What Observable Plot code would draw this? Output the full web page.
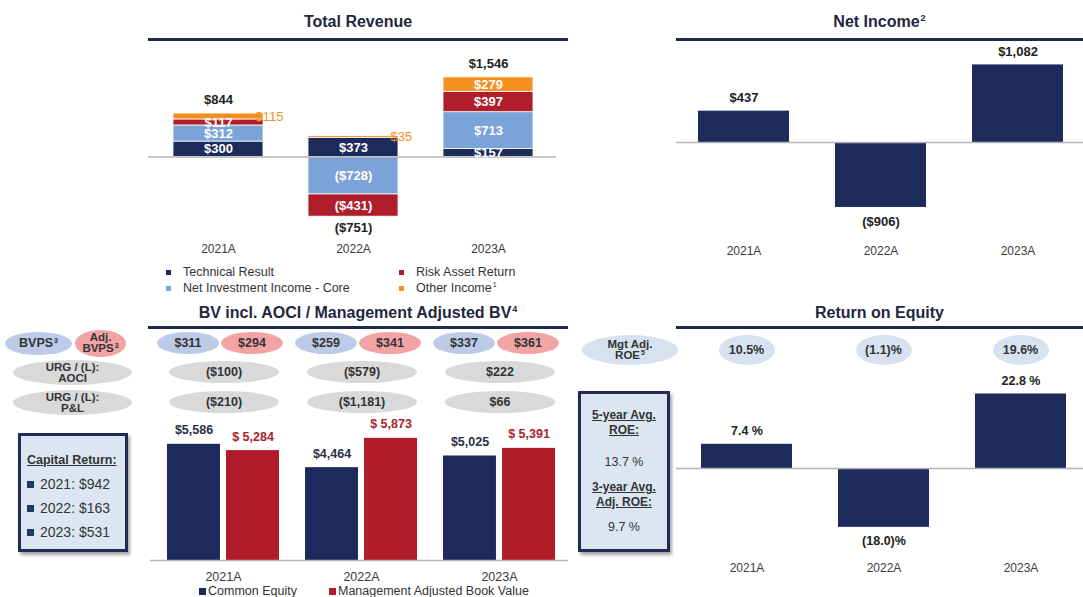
<!DOCTYPE html>
<html>
<head>
<meta charset="utf-8">
<script src="https://cdn.jsdelivr.net/npm/d3@7"></script>
<script src="https://cdn.jsdelivr.net/npm/@observablehq/plot@0.6"></script>
<style>
  body { margin: 0; background: #fff; font-family: "Liberation Sans", Arial, Helvetica, sans-serif; }
  #root { position: relative; width: 1083px; height: 597px; overflow: hidden; background: #fff; }
  .title { position: absolute; font-weight: bold; font-size: 16px; color: #1e2740; text-align: center; height: 20px; line-height: 20px; white-space: nowrap; }
  .rule { position: absolute; height: 3px; background: #1e2a4f; }
  .ell { position: absolute; border-radius: 50%; display: flex; align-items: center; justify-content: center; text-align: center; font-weight: bold; font-size: 12.5px; color: #333; line-height: 11px; white-space: nowrap; }
  .ell.small { font-size: 11.5px; }
  .sup { font-size: 7px; position: relative; top: -4px; margin-left: 1px; }
  .legend { position: absolute; font-size: 12.5px; color: #333; white-space: nowrap; display: flex; align-items: center; }
  .sq { display: inline-block; width: 5px; height: 5px; margin-right: 12px; }
  .box { position: absolute; box-sizing: border-box; border: 3px solid #1f2a55; background: #dce6f2; box-shadow: 2px 3px 3px rgba(0,0,0,0.35); color: #333; }
  svg.plot-abs { position: absolute; overflow: visible; }
</style>
</head>
<body>
<div id="root"></div>
<script>
// ---------------- DATA ----------------
const years = ["2021A", "2022A", "2023A"];

// Total Revenue (stacked)
const revSeries = ["Technical Result", "Net Investment Income - Core", "Risk Asset Return", "Other Income"];
const technicalResult = [300, 373, 157];
const netInvestmentIncomeCore = [312, -728, 713];
const riskAssetReturn = [117, -431, 397];
const otherIncome = [115, 35, 279];
const totalRevenue = [844, -751, 1546];

// Net Income
const netIncome = [437, -906, 1082];

// Book value
const bvps = [311, 259, 337];
const adjBvps = [294, 341, 361];
const urgAoci = [-100, -579, 222];
const urgPnl = [-210, -1181, 66];
const bvSeries = ["Common Equity", "Management Adjusted Book Value"];
const commonEquity = [5586, 4464, 5025];
const mgmtAdjBookValue = [5284, 5873, 5391];
const capitalReturnYears = ["2021", "2022", "2023"];
const capitalReturn = [942, 163, 531];

// Return on Equity
const roe = [7.4, -18.0, 22.8];
const mgtAdjRoe = [10.5, -1.1, 19.6];
const avg5yRoe = 13.7;
const avg3yAdjRoe = 9.7;

// ---------------- STYLE ----------------
const FONT = "'Liberation Sans', Arial, Helvetica, sans-serif";
const NAVY = "#1d2b5c", LBLUE = "#7ca3d7", RED = "#b01e2b", ORANGE = "#f5901f";
const BVRED = "#b01c28", LABEL = "#222", AXIS = "#3a3a3a";
const revColors = [NAVY, LBLUE, RED, ORANGE];
const fmtMoney = v => v < 0 ? "($" + d3.format(",")(-v) + ")" : "$" + d3.format(",")(v);
const fmtPctBar = v => v < 0 ? "(" + (-v).toFixed(1) + ")%" : v.toFixed(1) + " %";
const fmtPctEll = v => v < 0 ? "(" + (-v).toFixed(1) + ")%" : v.toFixed(1) + "%";
function avgRoeText(v) { return v.toFixed(1) + " %"; }

const root = document.getElementById("root");
function add(html, cls, left, top, width, height, extra) {
  const el = document.createElement("div");
  el.className = cls;
  el.innerHTML = cls.startsWith("ell") ? "<div>" + html + "</div>" : html;
  el.style.left = left + "px";
  el.style.top = top + "px";
  if (width != null) el.style.width = width + "px";
  if (height != null) el.style.height = height + "px";
  if (extra) Object.assign(el.style, extra);
  root.appendChild(el);
  return el;
}
function place(svg, left, top) {
  svg.classList.add("plot-abs");
  svg.style.left = left + "px";
  svg.style.top = top + "px";
  root.appendChild(svg);
  return svg;
}
const baseStyle = {fontFamily: FONT, background: "transparent", overflow: "visible"};

// ---------------- TOTAL REVENUE ----------------
const revValues = [technicalResult, netInvestmentIncomeCore, riskAssetReturn, otherIncome];
const revRows = [];
years.forEach((yr, i) => revSeries.forEach((s, j) => revRows.push({year: yr, series: s, value: revValues[j][i]})));
const revTotals = years.map((yr, i) => ({
  year: yr, total: totalRevenue[i],
  top: d3.sum(revValues, a => Math.max(0, a[i])),
  bottom: d3.sum(revValues, a => Math.min(0, a[i]))
}));
const outside = d => d.series === "Other Income" && Math.abs(d.value) < 150;

const L1 = 120, T1 = 45;
const chart1 = Plot.plot({
  width: 460, height: 215, marginTop: 0, marginBottom: 0, marginLeft: 28, marginRight: 24,
  style: baseStyle,
  x: {type: "band", domain: years, range: [6.5, 458.5], padding: 0.336, axis: null},
  y: {domain: [-1500, 2000], range: [188.75, 8.5], axis: null},
  color: {domain: revSeries, range: revColors},
  marks: [
    Plot.barY(revRows, {x: "year", y: "value", fill: "series", order: revSeries, stroke: "white", strokeWidth: 0.8}),
    Plot.ruleY([0], {stroke: "#b4b4b4", strokeWidth: 1.3}),
    Plot.text(revRows, Plot.stackY({x: "year", y: "value", z: "series", order: revSeries,
      text: d => outside(d) ? "" : fmtMoney(d.value), fill: "white", fontWeight: "bold", fontSize: 13})),
    Plot.text(revRows, Plot.stackY({x: "year", y: "value", z: "series", order: revSeries,
      text: d => outside(d) ? fmtMoney(d.value) : "", fill: ORANGE, fontSize: 13, textAnchor: "start", dx: 37})),
    Plot.text(revTotals.filter(d => d.total >= 0), {x: "year", y: "top", text: d => fmtMoney(d.total), dy: -13.5, fill: LABEL, fontWeight: "bold", fontSize: 13}),
    Plot.text(revTotals.filter(d => d.total < 0), {x: "year", y: "bottom", text: d => fmtMoney(d.total), dy: 11, fill: LABEL, fontWeight: "bold", fontSize: 13}),
    Plot.text(years, {x: d => d, frameAnchor: "bottom", lineAnchor: "middle", dy: -11, text: d => d, fontSize: 12, fill: AXIS})
  ]
});
place(chart1, L1, T1);
add("Total Revenue", "title", 148, 12, 420);
add("", "rule", 148, 38, 420);
// legend
const legendPos = [[166, 265], [166, 281], [399, 265], [399, 281]];
revSeries.forEach((s, j) => {
  const label = s === "Other Income" ? "Other Income<span class='sup'>1</span>" : s;
  add(`<span class="sq" style="background:${revColors[j]}"></span>${label}`, "legend", legendPos[j][0], legendPos[j][1], null, 14);
});

// ---------------- NET INCOME ----------------
const niRows = years.map((yr, i) => ({year: yr, value: netIncome[i]}));
const chart2 = Plot.plot({
  width: 407, height: 215, marginTop: 0, marginBottom: 0, marginLeft: 0, marginRight: 0,
  style: baseStyle,
  x: {type: "band", domain: years, range: [-25, 434], padding: 0.338, axis: null},
  y: {domain: [-1500, 1500], range: [204.55, -10.55], axis: null},
  marks: [
    Plot.barY(niRows, {x: "year", y: "value", fill: NAVY}),
    Plot.ruleY([0], {stroke: "#b4b4b4", strokeWidth: 1.3}),
    Plot.text(niRows.filter(d => d.value >= 0), {x: "year", y: "value", text: d => fmtMoney(d.value), dy: -13, fill: LABEL, fontWeight: "bold", fontSize: 13}),
    Plot.text(niRows.filter(d => d.value < 0), {x: "year", y: "value", text: d => fmtMoney(d.value), dy: 14, fill: LABEL, fontWeight: "bold", fontSize: 13}),
    Plot.text(years, {x: d => d, frameAnchor: "bottom", lineAnchor: "middle", dy: -9, text: d => d, fontSize: 12, fill: AXIS})
  ]
});
place(chart2, 676, 45);
add("Net Income<span class='sup' style='font-size:9px;top:-6px'>2</span>", "title", 676, 12, 407);
add("", "rule", 676, 38, 407);

// ---------------- BOOK VALUE ----------------
const bvRows = [];
years.forEach((yr, i) => {
  bvRows.push({year: yr, series: bvSeries[0], value: commonEquity[i]});
  bvRows.push({year: yr, series: bvSeries[1], value: mgmtAdjBookValue[i]});
});
const L3 = 130, T3 = 415;
const bvPad = 0.191, bvRange = [9.5, 451.5];
const bvStep = (bvRange[1] - bvRange[0]) / (years.length + bvPad);
const bvBand = bvStep * (1 - bvPad);
const half = bvBand / 2 + 3;
const chart3 = Plot.plot({
  width: 453, height: 182, marginTop: 0, marginBottom: 0, marginLeft: 20, marginRight: 15,
  style: baseStyle,
  x: {type: "band", domain: years, range: bvRange, padding: bvPad, axis: null},
  y: {domain: [0, 7000], range: [145, -0.6], axis: null},
  marks: [
    Plot.barY(bvRows.filter(d => d.series === bvSeries[0]), {x: "year", y: "value", fill: NAVY, insetRight: half}),
    Plot.barY(bvRows.filter(d => d.series === bvSeries[1]), {x: "year", y: "value", fill: BVRED, insetLeft: half}),
    Plot.ruleY([0], {stroke: "#b4b4b4", strokeWidth: 1.3}),
    Plot.text(bvRows.filter(d => d.series === bvSeries[0]), {x: "year", y: "value", text: d => fmtMoney(d.value), dx: -(bvBand / 4 + 1.5), dy: -14, fill: "#2a2f45", fontWeight: "bold", fontSize: 12.5}),
    Plot.text(bvRows.filter(d => d.series === bvSeries[1]), {x: "year", y: "value", text: d => "$ " + d3.format(",")(d.value), dx: bvBand / 4 + 1.5, dy: -14, fill: "#a8232c", fontWeight: "bold", fontSize: 12.5}),
    Plot.text(years, {x: d => d, frameAnchor: "bottom", lineAnchor: "middle", dy: -21, text: d => d, fontSize: 12.5, fill: AXIS})
  ]
});
place(chart3, L3, T3);
add("BV incl. AOCI / Management Adjusted BV<span class='sup' style='font-size:9px;top:-6px'>4</span>", "title", 148, 303, 420);
add("", "rule", 148, 326, 420);

// ellipses positioned from the chart's x scale
const xs3 = chart3.scale("x");
const groupCenter = yr => L3 + xs3.apply(yr) + xs3.bandwidth / 2;
add("BVPS<span class='sup'>3</span>", "ell", 5, 332, 67, 23, {background: "#bccbe8"});
add("Adj.<br>BVPS<span class='sup'>3</span>", "ell small", 75, 330, 51, 27, {background: "#f2a3a6"});
add("URG / (L):<br>AOCI", "ell small", 13, 360, 119, 25, {background: "#d9d9d9"});
add("URG / (L):<br>P&amp;L", "ell small", 13, 390, 119, 25, {background: "#d9d9d9"});
years.forEach((yr, i) => {
  const c = groupCenter(yr);
  add(fmtMoney(bvps[i]), "ell", c - 35 - 31, 332, 62, 22, {background: "#bccbe8"});
  add(fmtMoney(adjBvps[i]), "ell", c + 29 - 31, 332, 62, 22, {background: "#f2a3a6"});
  add(fmtMoney(urgAoci[i]), "ell", c + 1 - 55, 361, 110, 22, {background: "#d9d9d9"});
  add(fmtMoney(urgPnl[i]), "ell", c + 1 - 55, 391, 110, 22, {background: "#d9d9d9"});
});
// bottom legend
add(`<span class="sq" style="background:${NAVY};width:7px;height:7px;margin-right:2px"></span>${bvSeries[0]}`, "legend", 199, 584, null, 14);
add(`<span class="sq" style="background:${BVRED};width:7px;height:7px;margin-right:2px"></span>${bvSeries[1]}`, "legend", 329, 584, null, 14);
// capital return box
const cap = add("", "box", 18, 433, 110, 119);
let capHtml = `<div style="position:absolute;left:6px;top:17px;font-weight:bold;font-size:12.5px;text-decoration:underline;">Capital Return:</div>`;
capitalReturnYears.forEach((y, i) => {
  capHtml += `<div style="position:absolute;left:6px;top:${40 + i * 24}px;font-size:14px;display:flex;align-items:center;white-space:nowrap;"><span style="display:inline-block;width:7px;height:7px;background:#1f3864;margin-right:6px"></span>${y}: ${fmtMoney(capitalReturn[i])}</div>`;
});
cap.innerHTML = capHtml;

// ---------------- RETURN ON EQUITY ----------------
const roeRows = years.map((yr, i) => ({year: yr, value: roe[i]}));
const L4 = 676, T4 = 360;
const chart4 = Plot.plot({
  width: 407, height: 237, marginTop: 0, marginBottom: 0, marginLeft: 0, marginRight: 0,
  style: baseStyle,
  x: {type: "band", domain: years, range: [-21.5, 436], padding: 0.3333, axis: null},
  y: {domain: [-30, 30], range: [206.1, 9.9], axis: null},
  marks: [
    Plot.barY(roeRows, {x: "year", y: "value", fill: NAVY}),
    Plot.ruleY([0], {stroke: "#b4b4b4", strokeWidth: 1.3}),
    Plot.text(roeRows.filter(d => d.value >= 0), {x: "year", y: "value", text: d => fmtPctBar(d.value), dy: -13, fill: LABEL, fontWeight: "bold", fontSize: 12.5}),
    Plot.text(roeRows.filter(d => d.value < 0), {x: "year", y: "value", text: d => fmtPctBar(d.value), dy: 14, fill: LABEL, fontWeight: "bold", fontSize: 12.5}),
    Plot.text(years, {x: d => d, frameAnchor: "bottom", lineAnchor: "middle", dy: -29, text: d => d, fontSize: 12, fill: AXIS})
  ]
});
place(chart4, L4, T4);
add("Return on Equity", "title", 676, 303, 407);
add("", "rule", 676, 326, 407);
const xs4 = chart4.scale("x");
add("Mgt Adj.<br>ROE<span class='sup'>5</span>", "ell small", 582, 335, 96, 30, {background: "#d6e2f0"});
years.forEach((yr, i) => {
  const c = L4 + xs4.apply(yr) + xs4.bandwidth / 2;
  add(fmtPctEll(mgtAdjRoe[i]), "ell", c - 28, 335, 56, 30, {background: "#d6e2f0"});
});
const avgBox = add("", "box", 578, 391, 92, 161);
avgBox.innerHTML = `
  <div style="position:absolute;left:0;right:0;top:14px;text-align:center;font-weight:bold;font-size:12px;line-height:15px;text-decoration:underline;">5-year Avg.<br>ROE:</div>
  <div style="position:absolute;left:0;right:0;top:61px;text-align:center;font-size:12.5px;">${avgRoeText(avg5yRoe)}</div>
  <div style="position:absolute;left:0;right:0;top:86px;text-align:center;font-weight:bold;font-size:12px;line-height:15px;text-decoration:underline;">3-year Avg.<br>Adj. ROE:</div>
  <div style="position:absolute;left:0;right:0;top:126px;text-align:center;font-size:12.5px;">${avgRoeText(avg3yAdjRoe)}</div>`;
</script>
</body>
</html>
